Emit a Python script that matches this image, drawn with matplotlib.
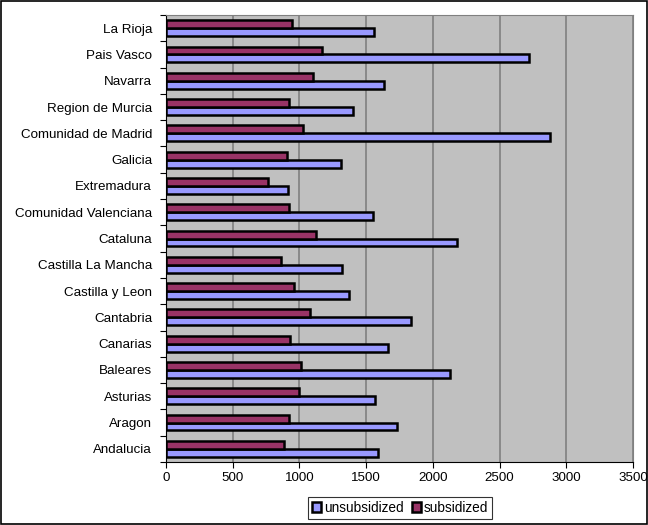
import matplotlib.pyplot as plt
import numpy as np

plt.rcParams['font.family'] = ['Liberation Sans', 'DejaVu Sans']

regions = ['Andalucia', 'Aragon', 'Asturias', 'Baleares', 'Canarias', 'Cantabria',
           'Castilla y Leon', 'Castilla La Mancha', 'Cataluna', 'Comunidad Valenciana',
           'Extremadura', 'Galicia', 'Comunidad de Madrid', 'Region de Murcia',
           'Navarra', 'Pais Vasco', 'La Rioja']
unsubsidized = [1587, 1735, 1567, 2125, 1662, 1837, 1375, 1320, 2180, 1550,
                912, 1315, 2880, 1405, 1635, 2720, 1560]
subsidized = [885, 920, 997, 1012, 932, 1077, 962, 865, 1122, 925,
              762, 907, 1025, 925, 1100, 1167, 947]

fig = plt.figure(figsize=(6.48, 5.25), dpi=100)
ax = fig.add_axes([166 / 648, 1 - 462 / 525, 467 / 648, 447 / 525])
ax.set_facecolor('#C0C0C0')

y = np.arange(len(regions))
h = 0.3
ax.barh(y - h / 2, unsubsidized, height=h, color='#9999FF', edgecolor='black',
        linewidth=1.8, label='unsubsidized', zorder=3)
ax.barh(y + h / 2, subsidized, height=h, color='#993366', edgecolor='black',
        linewidth=1.8, label='subsidized', zorder=3)

ax.set_xlim(0, 3500)
ax.set_ylim(-0.5, len(regions) - 0.5)
ax.set_xticks(range(0, 3501, 500))
ax.set_yticks(y)
ax.set_yticklabels(regions)
ax.set_yticks(np.arange(-0.5, len(regions), 1), minor=True)
ax.tick_params(axis='y', which='major', length=0, labelsize=9.6, pad=10)
ax.tick_params(axis='y', which='minor', length=4, width=0.8)
ax.tick_params(axis='x', length=4, labelsize=9.6)
ax.xaxis.grid(True, color='#808080', linewidth=1.2, zorder=0)

for side in ['top', 'right']:
    ax.spines[side].set_color('#808080')
for side in ['left', 'bottom']:
    ax.spines[side].set_color('black')

leg = fig.legend(loc='center', bbox_to_anchor=(400 / 648, 1 - 508 / 525), ncol=2,
                 fontsize=9.8, frameon=True, fancybox=False, edgecolor='black',
                 handlelength=0.7, handleheight=0.7, handletextpad=0.2,
                 columnspacing=0.6, borderpad=0.3)
leg.get_frame().set_linewidth(0.8)

fig.patches.append(plt.Rectangle((0.002, 0.002), 0.996, 0.996, transform=fig.transFigure,
                                 fill=False, edgecolor='black', linewidth=1.2))

fig.savefig('out.png', dpi=100)
